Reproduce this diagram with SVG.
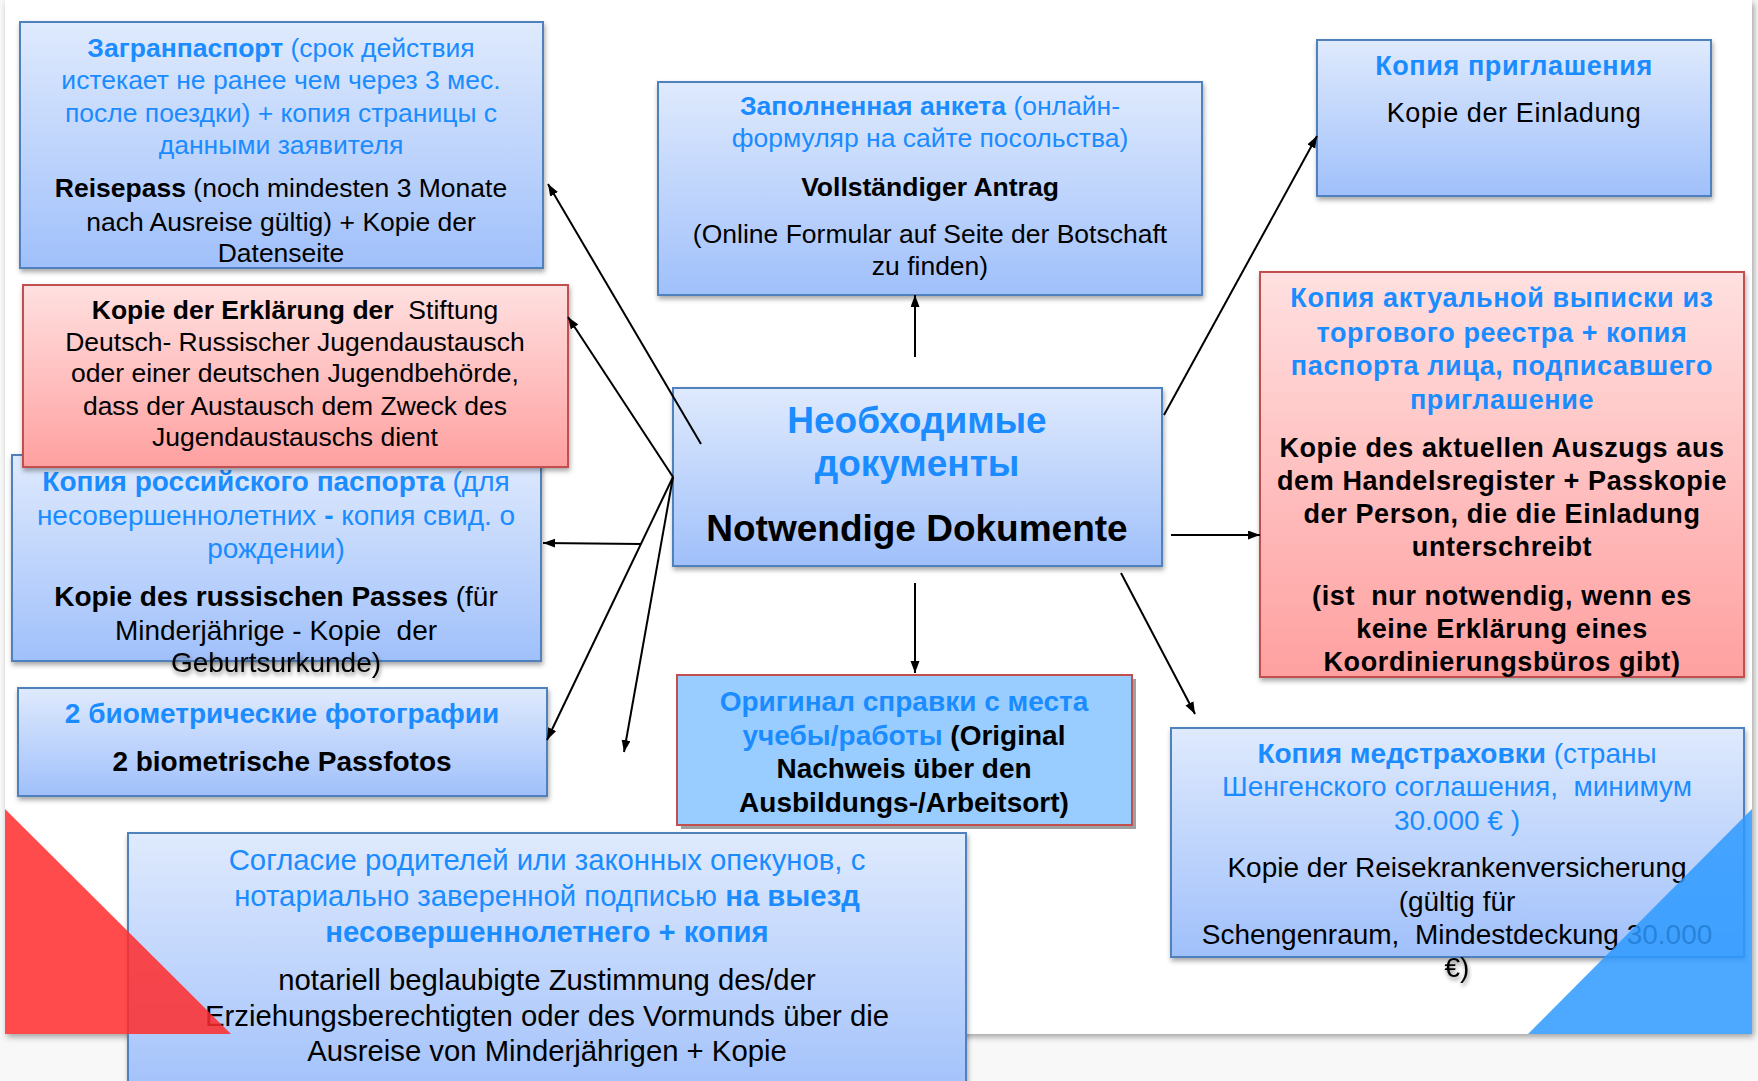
<svg xmlns="http://www.w3.org/2000/svg" width="1758" height="1081" viewBox="0 0 1758 1081">
<defs>
<linearGradient id="gBlue" x1="0" y1="0" x2="0" y2="1">
<stop offset="0" stop-color="#dfeafd"/>
<stop offset="1" stop-color="#a0c0fb"/>
</linearGradient>
<linearGradient id="gRed" x1="0" y1="0" x2="0" y2="1">
<stop offset="0" stop-color="#ffe0e0"/>
<stop offset="1" stop-color="#ffa0a0"/>
</linearGradient>
<filter id="sh" x="-5%" y="-5%" width="110%" height="120%">
<feDropShadow dx="1" dy="3" stdDeviation="2.5" flood-color="#000" flood-opacity="0.35"/>
</filter>
<filter id="slideSh" x="-2%" y="-2%" width="104%" height="104%">
<feDropShadow dx="2" dy="3" stdDeviation="3" flood-color="#000" flood-opacity="0.35"/>
</filter>
<filter id="tsh" x="-10%" y="-30%" width="120%" height="180%">
<feDropShadow dx="1" dy="3" stdDeviation="2" flood-color="#000" flood-opacity="0.45"/>
</filter>
<marker id="arr" markerUnits="userSpaceOnUse" markerWidth="14" markerHeight="10" refX="12" refY="4.5" orient="auto">
<path d="M0,0 L12,4.5 L0,9 z" fill="#000"/>
</marker>
</defs>
<style>
text{font-family:"Liberation Sans",Arial,sans-serif;text-anchor:middle;}
.b{fill:#1a8cff;}
.k{fill:#000;}
.bo{font-weight:bold;}
.f26{font-size:26.5px;}
.f28{font-size:28px;}
.f27{font-size:27px;letter-spacing:0.6px;}
.f29{font-size:29.3px;}
.f37{font-size:37px;font-weight:bold;}
.boxB{fill:url(#gBlue);stroke:#4f81bd;stroke-width:2;filter:url(#sh);}
.boxR{fill:url(#gRed);stroke:#c0504d;stroke-width:2;filter:url(#sh);}
.con{stroke:#000;stroke-width:2;fill:none;marker-end:url(#arr);}
</style>

<rect x="0" y="0" width="1758" height="1081" fill="#f8f8f8"/>
<rect x="5" y="0" width="1747" height="1034" fill="#fff" filter="url(#slideSh)"/>

<g id="node-zagranpasport">
<rect class="boxB" x="20" y="22" width="523" height="246"/>
<text class="f26 b" x="281" y="57"><tspan class="bo">Загранпаспорт</tspan> (срок действия</text>
<text class="f26 b" x="281" y="89">истекает не ранее чем через 3 мес.</text>
<text class="f26 b" x="281" y="122">после поездки) + копия страницы с</text>
<text class="f26 b" x="281" y="154">данными заявителя</text>
<text class="f26 k" x="281" y="197"><tspan class="bo">Reisepass</tspan> (noch mindesten 3 Monate</text>
<text class="f26 k" x="281" y="231">nach Ausreise gültig) + Kopie der</text>
<text class="f26 k" x="281" y="262">Datenseite</text>
</g>

<g id="node-russpass">
<rect class="boxB" x="12" y="455" width="529" height="206"/>
<text class="f28 b" x="276" y="491"><tspan class="bo">Копия российского паспорта</tspan> (для</text>
<text class="f28 b" x="276" y="525">несовершеннолетних <tspan class="bo">-</tspan> копия свид. о</text>
<text class="f28 b" x="276" y="558">рождении)</text>
<text class="f28 k" x="276" y="606"><tspan class="bo">Kopie des russischen Passes</tspan> (für</text>
<text class="f28 k" x="276" y="640" xml:space="preserve">Minderjährige - Kopie  der</text>
<text class="f28 k" x="276" y="672" filter="url(#tsh)">Geburtsurkunde)</text>
</g>

<g id="node-erklaerung">
<rect class="boxR" x="23" y="285" width="545" height="182"/>
<text class="f26 k" x="295" y="319" xml:space="preserve"><tspan class="bo">Kopie der Erklärung der</tspan>  Stiftung</text>
<text class="f26 k" x="295" y="351">Deutsch- Russischer Jugendaustausch</text>
<text class="f26 k" x="295" y="382">oder einer deutschen Jugendbehörde,</text>
<text class="f26 k" x="295" y="415">dass der Austausch dem Zweck des</text>
<text class="f26 k" x="295" y="446">Jugendaustauschs dient</text>
</g>

<g id="node-fotos">
<rect class="boxB" x="18" y="688" width="529" height="108"/>
<text class="f28 b bo" x="282" y="723">2 биометрические фотографии</text>
<text class="f28 k bo" x="282" y="771">2 biometrische Passfotos</text>
</g>

<g id="node-antrag">
<rect class="boxB" x="658" y="82" width="544" height="213"/>
<text class="f26 b" x="930" y="115"><tspan class="bo">Заполненная анкета</tspan> (онлайн-</text>
<text class="f26 b" x="930" y="147">формуляр на сайте посольства)</text>
<text class="f26 k bo" x="930" y="196">Vollständiger Antrag</text>
<text class="f26 k" x="930" y="243">(Online Formular auf Seite der Botschaft</text>
<text class="f26 k" x="930" y="275">zu finden)</text>
</g>

<g id="node-center">
<rect class="boxB" x="673" y="388" width="489" height="178"/>
<text class="f37 b" x="917" y="433">Необходимые</text>
<text class="f37 b" x="917" y="476">документы</text>
<text class="f37 k" x="917" y="541">Notwendige Dokumente</text>
</g>

<g id="node-einladung">
<rect class="boxB" x="1317" y="40" width="394" height="156"/>
<text class="f27 b bo" x="1514" y="75">Копия приглашения</text>
<text class="f27 k" x="1514" y="122">Kopie der Einladung</text>
</g>

<g id="node-handelsregister">
<rect class="boxR" x="1260" y="272" width="484" height="405"/>
<text class="f27 b bo" x="1502" y="307">Копия актуальной выписки из</text>
<text class="f27 b bo" x="1502" y="342">торгового реестра + копия</text>
<text class="f27 b bo" x="1502" y="375">паспорта лица, подписавшего</text>
<text class="f27 b bo" x="1502" y="409">приглашение</text>
<text class="f27 k bo" x="1502" y="457">Kopie des aktuellen Auszugs aus</text>
<text class="f27 k bo" x="1502" y="490">dem Handelsregister + Passkopie</text>
<text class="f27 k bo" x="1502" y="523">der Person, die die Einladung</text>
<text class="f27 k bo" x="1502" y="556">unterschreibt</text>
<text class="f27 k bo" x="1502" y="605" xml:space="preserve">(ist  nur notwendig, wenn es</text>
<text class="f27 k bo" x="1502" y="638">keine Erklärung eines</text>
<text class="f27 k bo" x="1502" y="671">Koordinierungsbüros gibt)</text>
</g>

<g id="node-nachweis">
<rect x="681" y="679" width="455" height="150" fill="#a0a0a0"/>
<rect x="677" y="675" width="455" height="150" fill="#99ccff" stroke="#c0504d" stroke-width="2"/>
<text class="f28 b bo" x="904" y="711">Оригинал справки с места</text>
<text class="f28 b" x="904" y="745"><tspan class="bo">учебы/работы</tspan> <tspan class="k bo">(Original</tspan></text>
<text class="f28 k bo" x="904" y="778">Nachweis über den</text>
<text class="f28 k bo" x="904" y="812">Ausbildungs-/Arbeitsort)</text>
</g>

<g id="node-versicherung">
<rect class="boxB" x="1171" y="728" width="573" height="229"/>
<text class="f28 b" x="1457" y="763"><tspan class="bo">Копия медстраховки</tspan> (страны</text>
<text class="f28 b" x="1457" y="796" xml:space="preserve">Шенгенского соглашения,  минимум</text>
<text class="f28 b" x="1457" y="830">30.000 € )</text>
<text class="f28 k" x="1457" y="877">Kopie der Reisekrankenversicherung</text>
<text class="f28 k" x="1457" y="911">(gültig für</text>
<text class="f28 k" x="1457" y="944" xml:space="preserve">Schengenraum,  Mindestdeckung 30.000</text>
<text class="f28 k" x="1457" y="977" filter="url(#tsh)">€)</text>
</g>

<g id="node-zustimmung">
<rect class="boxB" x="128" y="833" width="838" height="270"/>
<text class="f29 b" x="547" y="870">Согласие родителей или законных опекунов, с</text>
<text class="f29 b" x="547" y="906">нотариально заверенной подписью <tspan class="bo">на выезд</tspan></text>
<text class="f29 b bo" x="547" y="942">несовершеннолетнего + копия</text>
<text class="f29 k" x="547" y="990">notariell beglaubigte Zustimmung des/der</text>
<text class="f29 k" x="547" y="1026">Erziehungsberechtigten oder des Vormunds über die</text>
<text class="f29 k" x="547" y="1061">Ausreise von Minderjährigen + Kopie</text>
</g>

<g id="decor">
<polygon points="5,809 5,1034 231,1034" fill="#ff2b2b" fill-opacity="0.85"/>
<polygon points="1752,809 1752,1034 1528,1034" fill="#2e9aff" fill-opacity="0.85"/>
</g>

<g id="connectors">
<line class="con" x1="701" y1="444" x2="548" y2="184"/>
<line class="con" x1="673" y1="477" x2="568" y2="317"/>
<line class="con" x1="641" y1="544" x2="543" y2="543"/>
<line class="con" x1="673" y1="477" x2="547" y2="740"/>
<line class="con" x1="673" y1="477" x2="624" y2="752"/>
<line class="con" x1="915" y1="357" x2="915" y2="295"/>
<line class="con" x1="1164" y1="415" x2="1317" y2="136"/>
<line class="con" x1="1171" y1="535" x2="1260" y2="535"/>
<line class="con" x1="915" y1="583" x2="915" y2="673"/>
<line class="con" x1="1121" y1="573" x2="1195" y2="714"/>
</g>
</svg>
